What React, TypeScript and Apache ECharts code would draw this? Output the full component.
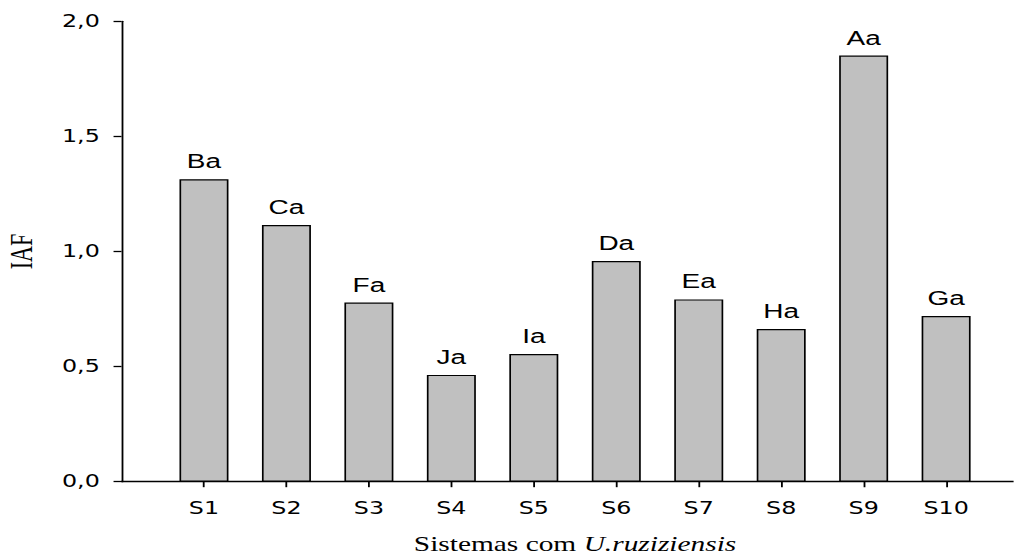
import React, { useEffect, useRef } from "react";
import * as echarts from "echarts";

// Leaf area index (IAF) for ten systems with U. ruziziensis
const systems = ["S1", "S2", "S3", "S4", "S5", "S6", "S7", "S8", "S9", "S10"];
const iaf = [1.314, 1.115, 0.778, 0.464, 0.555, 0.959, 0.792, 0.663, 1.851, 0.72];
const letters = ["Ba", "Ca", "Fa", "Ja", "Ia", "Da", "Ea", "Ha", "Aa", "Ga"];
const yTicks = { min: 0, max: 2, interval: 0.5 };

// The figure is drawn narrow and then widened horizontally
const STRETCH = 1.4;
const WIDTH = 1014;
const HEIGHT = 556;

export default function App() {
  const ref = useRef<HTMLDivElement>(null);

  useEffect(() => {
    if (!ref.current) return;
    const chart = echarts.init(ref.current, undefined, { renderer: "svg" });

    // padding slots on both ends so the first bar sits one band from the y axis
    const axisCats = ["", ...systems, ""];
    const barData = ["-", ...iaf, "-"] as any[];
    const labelText = ["", ...letters, ""];

    chart.setOption({
      animation: false,
      backgroundColor: "#ffffff",
      grid: {
        left: 86.8,
        top: 21.3,
        bottom: 74.3,
        right: -10.7,
        containLabel: false,
        outerBoundsMode: "none",
      },
      xAxis: {
        type: "category",
        data: axisCats,
        boundaryGap: false,
        axisLine: { lineStyle: { color: "#000", width: 1.3 } },
        axisTick: {
          show: true,
          length: 5.5,
          lineStyle: { color: "#000", width: 1.3 },
          interval: (index: number) => index >= 1 && index <= systems.length,
        },
        axisLabel: {
          interval: 0,
          margin: 18,
          color: "#000",
          fontFamily: "DejaVu Sans",
          fontSize: 17,
        },
        splitLine: { show: false },
        name: "{n|Sistemas com }{i|U.ruziziensis}",
        nameLocation: "middle",
        nameGap: 51.5,
        nameTextStyle: {
          rich: {
            n: { fontFamily: "Liberation Serif", fontSize: 21, color: "#000" },
            i: { fontFamily: "Liberation Serif", fontSize: 21, fontStyle: "italic", color: "#000" },
          },
        },
      },
      yAxis: {
        type: "value",
        min: yTicks.min,
        max: yTicks.max,
        interval: yTicks.interval,
        axisLine: { show: true, lineStyle: { color: "#000", width: 1.3 } },
        axisTick: { show: true, length: 5.7, lineStyle: { color: "#000", width: 1.3 } },
        axisLabel: {
          margin: 15.5,
          color: "#000",
          fontFamily: "DejaVu Sans",
          fontSize: 17,
          formatter: (v: number) => v.toFixed(1).replace(".", ","),
        },
        splitLine: { show: false },
        name: "IAF",
        nameLocation: "middle",
        nameGap: 60,
        nameTextStyle: { fontFamily: "Liberation Serif", fontSize: 22, color: "#000" },
      },
      series: [
        {
          type: "bar",
          data: barData,
          barWidth: 35,
          itemStyle: { color: "#c0c0c0", borderColor: "#000", borderWidth: 1.2 },
          label: {
            show: true,
            position: "top",
            distance: 8,
            color: "#000",
            fontFamily: "Liberation Sans",
            fontSize: 20,
            formatter: (p: any) => labelText[p.dataIndex],
          },
        },
      ],
    });

    return () => chart.dispose();
  }, []);

  return (
    <div
      style={{
        position: "fixed",
        left: 0,
        top: 0,
        width: WIDTH,
        height: HEIGHT,
        overflow: "hidden",
        background: "#fff",
      }}
    >
      <div
        ref={ref}
        style={{
          width: WIDTH / STRETCH,
          height: HEIGHT,
          transform: `scaleX(${STRETCH})`,
          transformOrigin: "0 0",
        }}
      />
    </div>
  );
}
